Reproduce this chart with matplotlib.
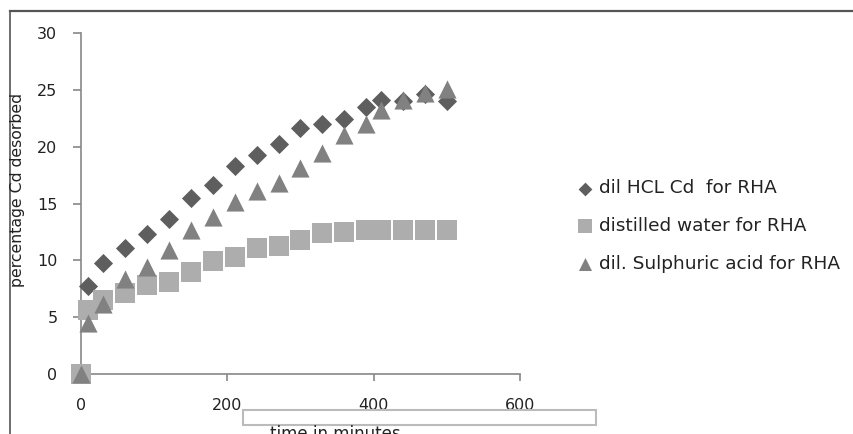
import matplotlib
matplotlib.use("Agg")
import matplotlib.pyplot as plt
from matplotlib.lines import Line2D
from matplotlib.patches import Rectangle

# time in minutes
time = [0, 10, 30, 60, 90, 120, 150, 180, 210, 240, 270, 300, 330, 360, 390, 410, 440, 470, 500]

hcl = [0, 7.7, 9.8, 11.1, 12.3, 13.6, 15.5, 16.6, 18.3, 19.3, 20.2, 21.6, 22.0, 22.4, 23.5, 24.1, 24.0, 24.6, 24.0]
water = [0, 5.6, 6.5, 7.1, 7.8, 8.1, 9.0, 9.9, 10.3, 11.1, 11.3, 11.8, 12.4, 12.5, 12.7, 12.7, 12.7, 12.7, 12.7]
sulph = [0, 4.5, 6.2, 8.4, 9.4, 10.9, 12.7, 13.8, 15.1, 16.1, 16.8, 18.1, 19.4, 21.0, 22.0, 23.2, 24.1, 24.7, 25.1]

labels = ["dil HCL Cd  for RHA", "distilled water for RHA", "dil. Sulphuric acid for RHA"]

fig = plt.figure(figsize=(8.54, 4.34), dpi=100)
W, H = 854, 434

def fx(px):
    return px / W

def fy(py):
    return 1 - py / H

ax = fig.add_axes([fx(81), fy(374), fx(520) - fx(81), fy(33) - fy(374)])

ax.scatter(time, hcl, marker="D", s=95, color="#5e5e5e", linewidths=0, label=labels[0],
           zorder=3, clip_on=False)
ax.scatter(time, water, marker="s", s=200, color="#adadad", linewidths=0, label=labels[1],
           zorder=4, clip_on=False)
ax.scatter(time, sulph, marker="^", s=170, color="#818181", linewidths=0, label=labels[2],
           zorder=5, clip_on=False)

ax.set_xlim(0, 600)
ax.set_ylim(0, 30)
ax.set_xticks([0, 200, 400, 600])
ax.set_yticks([0, 5, 10, 15, 20, 25, 30])
for s in ["top", "right"]:
    ax.spines[s].set_visible(False)
for s in ["left", "bottom"]:
    ax.spines[s].set_color("#888888")
    ax.spines[s].set_linewidth(1.2)
ax.tick_params(axis="y", direction="out", length=6, width=1.2, color="#888888",
               pad=11, labelsize=11.5, labelcolor="#222222")
ax.tick_params(axis="x", direction="out", length=5, width=1.2, color="#888888",
               pad=12, labelsize=11.5, labelcolor="#222222")

leg = fig.legend(loc="upper left", bbox_to_anchor=(fx(568), fy(172)), frameon=False,
                 fontsize=13.3, labelspacing=1.07, handletextpad=0.3,
                 handlelength=1.0, markerscale=0.72, borderaxespad=0)
for t in leg.get_texts():
    t.set_color("#222222")

fig.text(fx(18), fy(190), "percentage Cd desorbed", rotation=90, ha="center", va="center",
         fontsize=11.3, color="#222222")

# outer chart border (top and left)
fig.add_artist(Line2D([fx(10), 1], [fy(11), fy(11)], color="#555555", lw=1.6))
fig.add_artist(Line2D([fx(10), fx(10)], [fy(11), 0], color="#555555", lw=1.2))

# axis title, partly hidden under a blank box
fig.text(fx(335), fy(425), "time in minutes", ha="center", va="top", fontsize=12, color="#222222")
fig.add_artist(Rectangle((fx(243), fy(425)), fx(596) - fx(243), fy(410) - fy(425),
                         transform=fig.transFigure, facecolor="white", edgecolor="#bbbbbb", lw=1.5))

fig.savefig("out.png", dpi=100)
